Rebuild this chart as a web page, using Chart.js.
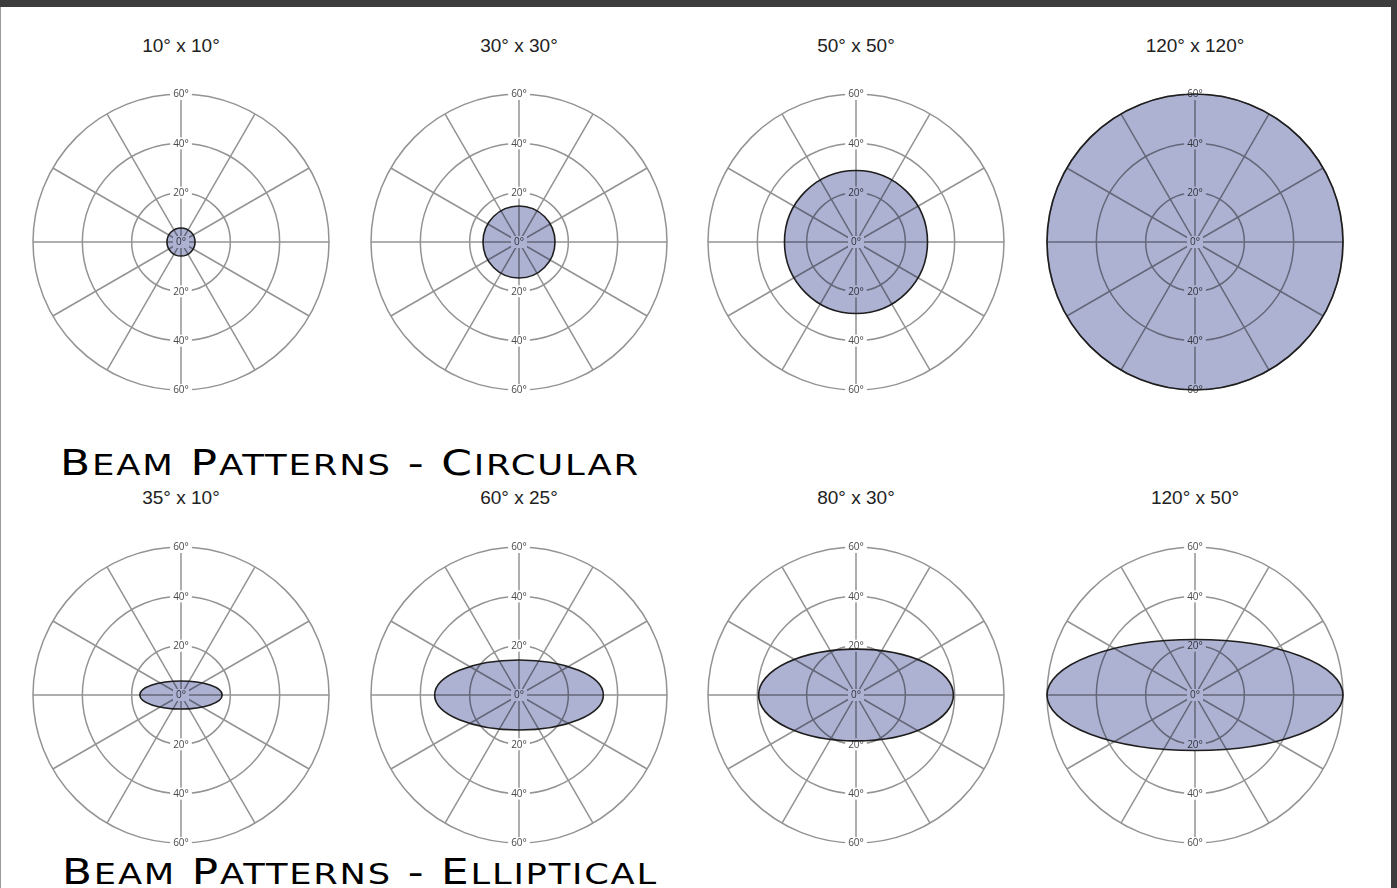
<!DOCTYPE html>
<html>
<head>
<meta charset="utf-8">
<script src="https://cdn.jsdelivr.net/npm/chart.js@4.4.1/dist/chart.umd.min.js"></script>
<style>
  html, body { margin: 0; padding: 0; background: #fff; }
  body { width: 1397px; height: 888px; position: relative; overflow: hidden; font-family: 'Liberation Sans', Arial, sans-serif; }
  .frame { position: absolute; background: #3d3d3d; }
  .plot { position: absolute; width: 320px; height: 320px; }
  .title { position: absolute; width: 200px; text-align: center; font-size: 19px; line-height: 19px; color: #222; white-space: nowrap; }
  .heading { position: absolute; font-family: 'DejaVu Sans', sans-serif; font-size: 36px; line-height: 36px; color: #000; white-space: nowrap; letter-spacing: 1.5px; transform-origin: 0 0; }
  .heading .sc { font-size: 29px; }
</style>
</head>
<body>
<div class="frame" style="left:0;top:0;width:1397px;height:7px;"></div>
<div class="frame" style="right:0;top:0;width:6px;height:888px;"></div>
<div style="position:absolute;left:0;top:7px;width:1px;height:881px;background:#9a9a9a;"></div>
<div id="root"></div>
<script>
// row headings and the beam size printed over each plot
const rowHeadings = ['Beam Patterns - Circular', 'Beam Patterns - Elliptical'];
const beamLabels = ['10° x 10°', '30° x 30°', '50° x 50°', '120° x 120°',
                    '35° x 10°', '60° x 25°', '80° x 30°', '120° x 50°'];
// half extent of the shaded beam on the 0–60° radial scale
const beamHoriz = [5.7, 14.6, 29, 60, 16.7, 34.2, 39.5, 60];
const beamVert  = [5.7, 14.6, 29, 60, 5.7, 14.2, 18.6, 22.5];
// radial rings and the spokes (every 30°)
const ringTicks = [0, 20, 40, 60];
const spokeAngles = ['0', '30', '60', '90', '120', '150', '180', '210', '240', '270', '300', '330'];

// layout of the 2x4 grid
const colCenters = [181, 519, 856, 1195];
const rowCenters = [242, 695];
const titleTops = [36, 488];
const headingTops = [445, 854];
const headingLefts = [60, 62];
const headingWidths = [580, 596];

const GRID = '#939393';
const FILL = '#aeb2d2';

const beamPlugin = {
  id: 'beam',
  beforeDatasetsDraw(chart) {
    const s = chart.scales.r;
    const ctx = chart.ctx;
    ctx.save();
    ctx.font = "10px 'Open Sans', sans-serif";
    ctx.textAlign = 'center';
    ctx.textBaseline = 'middle';
    ringTicks.forEach(v => {
      const d = s.getDistanceFromCenterForValue(v);
      const txt = v + '°';
      const w = ctx.measureText(txt).width + 6;
      const ys = v === 0 ? [s.yCenter] : [s.yCenter - d, s.yCenter + d];
      ys.forEach(y => {
        ctx.fillStyle = '#fff';
        ctx.fillRect(s.xCenter - w / 2, y - 6, w, 12);
        ctx.fillStyle = '#4a4a4a';
        ctx.fillText(txt, s.xCenter, y + 0.5);
      });
    });
    ctx.restore();
  },
  afterDatasetsDraw(chart, args, opts) {
    const s = chart.scales.r;
    const ctx = chart.ctx;
    const rx = s.getDistanceFromCenterForValue(opts.h);
    const ry = s.getDistanceFromCenterForValue(opts.v);
    ctx.save();
    ctx.beginPath();
    ctx.ellipse(s.xCenter, s.yCenter, rx, ry, 0, 0, Math.PI * 2);
    ctx.globalCompositeOperation = 'multiply';
    ctx.fillStyle = FILL;
    ctx.fill();
    ctx.globalCompositeOperation = 'source-over';
    ctx.lineWidth = 1.6;
    ctx.strokeStyle = '#1e1e1e';
    ctx.stroke();
    ctx.restore();
  }
};

const root = document.getElementById('root');

// small caps by hand: first letter of each word full size, the rest smaller capitals
rowHeadings.forEach((txt, r) => {
  const h = document.createElement('div');
  h.className = 'heading';
  txt.split(' ').forEach((word, k) => {
    if (k > 0) h.appendChild(document.createTextNode(' '));
    h.appendChild(document.createTextNode(word[0].toUpperCase()));
    if (word.length > 1) {
      const sc = document.createElement('span');
      sc.className = 'sc';
      sc.textContent = word.slice(1).toUpperCase();
      h.appendChild(sc);
    }
  });
  h.style.left = headingLefts[r] + 'px';
  h.style.top = headingTops[r] + 'px';
  root.appendChild(h);
  const w = h.getBoundingClientRect().width;
  h.style.transform = 'scaleX(' + (headingWidths[r] / w) + ')';
});

beamLabels.forEach((label, i) => {
  const row = Math.floor(i / 4), col = i % 4;
  const cx = colCenters[col], cy = rowCenters[row];

  const t = document.createElement('div');
  t.className = 'title';
  t.textContent = label;
  t.style.left = (cx - 100) + 'px';
  t.style.top = titleTops[row] + 'px';
  root.appendChild(t);

  const box = document.createElement('div');
  box.className = 'plot';
  box.style.left = (cx - 160) + 'px';
  box.style.top = (cy - 160) + 'px';
  const canvas = document.createElement('canvas');
  box.appendChild(canvas);
  root.appendChild(box);

  new Chart(canvas, {
    type: 'radar',
    data: { labels: spokeAngles, datasets: [] },
    options: {
      responsive: true,
      maintainAspectRatio: false,
      animation: false,
      layout: { padding: 12 },
      plugins: {
        legend: { display: false },
        tooltip: { enabled: false },
        beam: { h: beamHoriz[i], v: beamVert[i] },
      },
      scales: {
        r: {
          min: ringTicks[0],
          max: ringTicks[ringTicks.length - 1],
          ticks: { display: false, stepSize: 20 },
          grid: { circular: true, color: GRID, lineWidth: 1.5 },
          angleLines: { display: true, color: GRID, lineWidth: 1.5 },
          pointLabels: { display: false },
        },
      },
    },
    plugins: [beamPlugin],
  });
});
</script>
</body>
</html>
